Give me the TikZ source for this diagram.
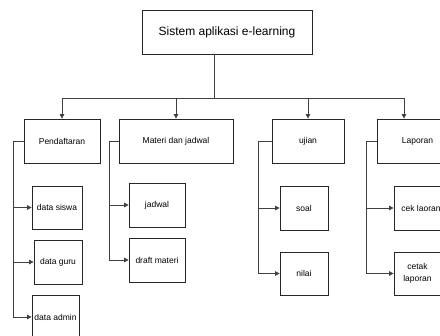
\documentclass[tikz,border=0pt]{standalone}
\usepackage{fontspec}
\setmainfont{Liberation Sans}
\usetikzlibrary{arrows.meta}
\begin{document}
\begin{tikzpicture}[x=1pt,y=-1pt,
  box/.style={draw=black!85,line width=0.8pt,rectangle,inner sep=0pt,align=center,font=\fontsize{8.5}{10}\selectfont},
  link/.style={draw=black!75,line width=0.8pt},
  arr/.style={link,-{Triangle[length=4.5pt,width=4.5pt]}}]
\clip (0,0) rectangle (440,336);
\fill[white] (0,0) rectangle (440,336);
% nodes
\node[box,minimum width=170,minimum height=44,font=\fontsize{12}{14}\selectfont] (top) at (227,32) {Sistem aplikasi e-learning};
\node[box,minimum width=76,minimum height=44] (pend) at (62,141) {Pendaftaran};
\node[box,minimum width=114,minimum height=44] (materi) at (176,141) {Materi dan jadwal};
\node[box,minimum width=72,minimum height=44] (ujian) at (308,141) {ujian};
\node[box,minimum width=81,minimum height=44] (lap) at (417.5,141) {Laporan};
\node[box,minimum width=50,minimum height=43] (siswa) at (57,207.5) {data siswa};
\node[box,minimum width=48,minimum height=44] (guru) at (58,262) {data guru};
\node[box,minimum width=47,minimum height=44] (admin) at (55.5,317) {data admin};
\node[box,minimum width=56,minimum height=44] (jadwal) at (157,205) {jadwal};
\node[box,minimum width=56,minimum height=44] (draft) at (157,260) {draft materi};
\node[box,minimum width=48,minimum height=44] (soal) at (304,208) {soal};
\node[box,minimum width=48,minimum height=43] (nilai) at (304,273.5) {nilai};
\node[box,minimum width=54,minimum height=44] (cek) at (421,208) {cek laoran};
\node[box,minimum width=47,minimum height=43] (cetak) at (417.5,273.5) {cetak\\[2pt]laporan};
% coordinates
\coordinate (t0) at (214,54);
\coordinate (tb) at (214,98);
\coordinate (b1) at (62,98);
\coordinate (b2) at (176,98);
\coordinate (b3) at (308,98);
\coordinate (b4) at (404,98);
\coordinate (p1) at (13,141);
\coordinate (p2) at (109,141);
\coordinate (p3) at (258,141);
\coordinate (p4) at (366,141);
% trunk and bus
\draw[link] (t0) -- (tb);
\draw[link] (b1) -- (b4);
\draw[arr] (b1) -- (pend.north);
\draw[arr] (b2) -- (materi.north);
\draw[arr] (b3) -- (ujian.north);
\draw[arr] (b4) -- (b4 |- lap.north);
% brackets
\draw[link] (pend.west) -- (p1) -- (p1 |- admin.west);
\draw[arr] (p1 |- siswa.west) -- (siswa.west);
\draw[arr] (p1 |- guru.west) -- (guru.west);
\draw[arr] (p1 |- admin.west) -- (admin.west);
\draw[link] (materi.west) -- (p2) -- (p2 |- draft.west);
\draw[arr] (p2 |- jadwal.west) -- (jadwal.west);
\draw[arr] (p2 |- draft.west) -- (draft.west);
\draw[link] (ujian.west) -- (p3) -- (p3 |- nilai.west);
\draw[arr] (p3 |- soal.west) -- (soal.west);
\draw[arr] (p3 |- nilai.west) -- (nilai.west);
\draw[link] (lap.west) -- (p4) -- (p4 |- cetak.west);
\draw[arr] (p4 |- cek.west) -- (cek.west);
\draw[arr] (p4 |- cetak.west) -- (cetak.west);
\end{tikzpicture}
\end{document}
